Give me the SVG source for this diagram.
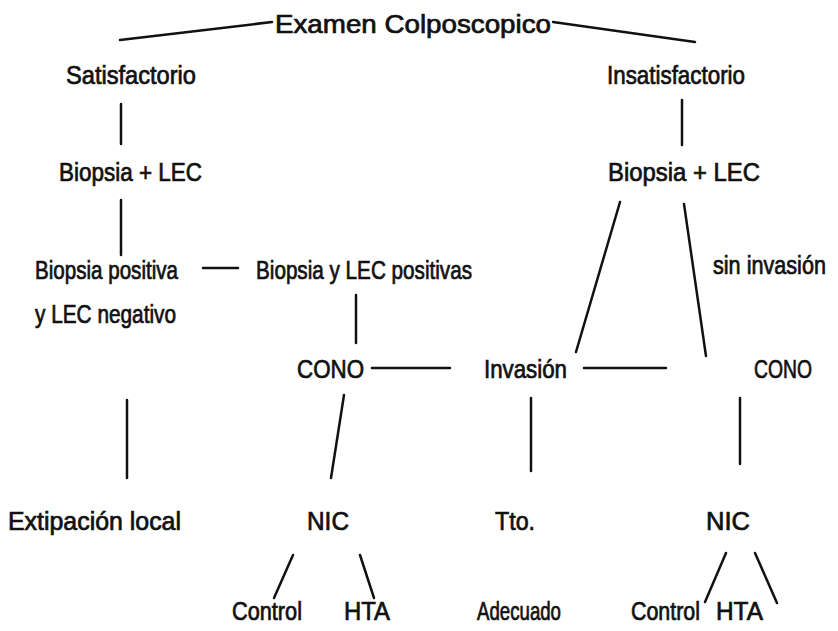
<svg xmlns="http://www.w3.org/2000/svg" width="838" height="631" viewBox="0 0 838 631">
<style>
text{font-family:"Liberation Sans",Arial,sans-serif;font-size:25px;fill:#111;stroke:#111;stroke-width:0.7;}
.c line{stroke:#111;stroke-width:2.5;stroke-linecap:round;}
</style>
<rect width="838" height="631" fill="#fff"/>
<g class="c" id="connectors">
<line x1="120" y1="40" x2="272" y2="22"/>
<line x1="553" y1="22" x2="695" y2="42"/>
<line x1="121" y1="104" x2="121" y2="144"/>
<line x1="682" y1="100" x2="682" y2="145"/>
<line x1="121" y1="200" x2="121" y2="255"/>
<line x1="203" y1="268" x2="238" y2="268"/>
<line x1="356" y1="295" x2="356" y2="343"/>
<line x1="620" y1="202" x2="576" y2="352"/>
<line x1="684" y1="204" x2="706" y2="356"/>
<line x1="372" y1="368" x2="450" y2="368"/>
<line x1="584" y1="368" x2="666" y2="368"/>
<line x1="127" y1="400" x2="127" y2="478"/>
<line x1="344" y1="395" x2="331" y2="478"/>
<line x1="531" y1="398" x2="531" y2="471"/>
<line x1="740" y1="398" x2="740" y2="464"/>
<line x1="293" y1="555" x2="274" y2="598"/>
<line x1="360" y1="555" x2="374" y2="598"/>
<line x1="726" y1="553" x2="705" y2="602"/>
<line x1="755" y1="553" x2="777" y2="603"/>
</g>
<g id="n1"><text x="275" y="33" textLength="276" lengthAdjust="spacingAndGlyphs">Examen Colposcopico</text></g>
<g id="n2"><text x="66" y="84" textLength="130" lengthAdjust="spacingAndGlyphs">Satisfactorio</text></g>
<g id="n3"><text x="607" y="84" textLength="138" lengthAdjust="spacingAndGlyphs">Insatisfactorio</text></g>
<g id="n4"><text x="59" y="181" textLength="143" lengthAdjust="spacingAndGlyphs">Biopsia + LEC</text></g>
<g id="n5"><text x="608" y="181" textLength="152" lengthAdjust="spacingAndGlyphs">Biopsia + LEC</text></g>
<g id="n6"><text x="35" y="279" textLength="143" lengthAdjust="spacingAndGlyphs">Biopsia positiva</text><text x="35" y="323" textLength="141" lengthAdjust="spacingAndGlyphs">y LEC negativo</text></g>
<g id="n7"><text x="256" y="279" textLength="216" lengthAdjust="spacingAndGlyphs">Biopsia y LEC positivas</text></g>
<g id="n8"><text transform="translate(713,274) scale(0.865,1)">sin invasión</text></g>
<g id="n9"><text x="297" y="378" textLength="67" lengthAdjust="spacingAndGlyphs">CONO</text></g>
<g id="n10"><text x="484" y="378" textLength="83" lengthAdjust="spacingAndGlyphs">Invasión</text></g>
<g id="n11"><text x="754" y="378" textLength="58" lengthAdjust="spacingAndGlyphs">CONO</text></g>
<g id="n12"><text x="8" y="530" textLength="173" lengthAdjust="spacingAndGlyphs">Extipación local</text></g>
<g id="n13"><text x="307" y="530" textLength="42" lengthAdjust="spacingAndGlyphs">NIC</text></g>
<g id="n14"><text x="495" y="530" textLength="40" lengthAdjust="spacingAndGlyphs">Tto.</text></g>
<g id="n15"><text x="706" y="530" textLength="44" lengthAdjust="spacingAndGlyphs">NIC</text></g>
<g id="n16"><text x="232" y="620" textLength="70" lengthAdjust="spacingAndGlyphs">Control</text></g>
<g id="n17"><text x="344" y="620" textLength="46" lengthAdjust="spacingAndGlyphs">HTA</text></g>
<g id="n18"><text x="477" y="620" textLength="84" lengthAdjust="spacingAndGlyphs">Adecuado</text></g>
<g id="n19"><text x="631" y="620" textLength="69" lengthAdjust="spacingAndGlyphs">Control</text></g>
<g id="n20"><text x="716" y="620" textLength="47" lengthAdjust="spacingAndGlyphs">HTA</text></g>
</svg>
